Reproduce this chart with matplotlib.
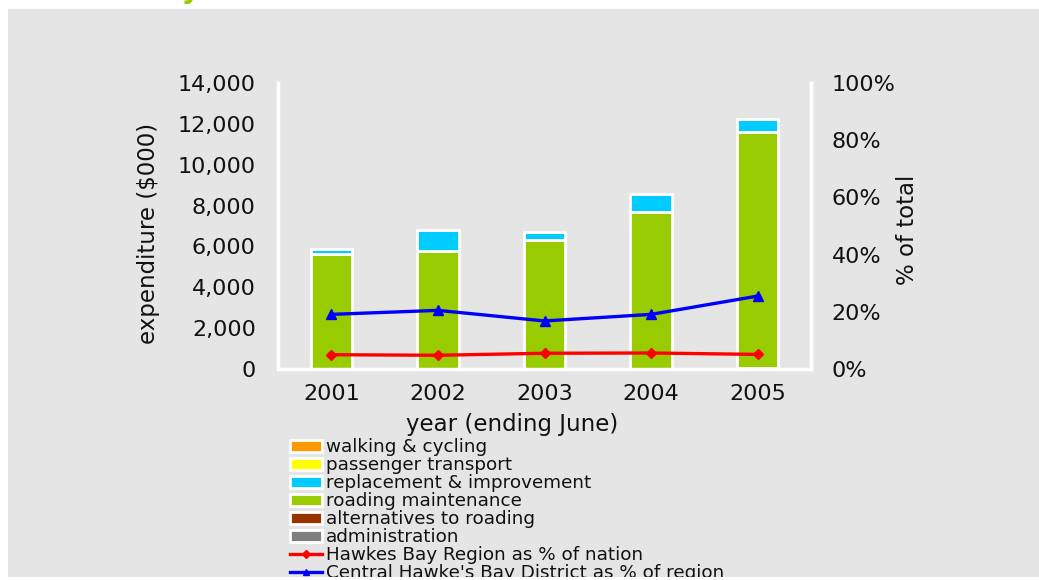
import matplotlib
matplotlib.use("Agg")
import matplotlib.pyplot as plt
from matplotlib.patches import Rectangle, Patch
from matplotlib.lines import Line2D
from matplotlib.ticker import FuncFormatter
import numpy as np

# ---- data ----
years = ["2001", "2002", "2003", "2004", "2005"]
administration = [0, 0, 0, 0, 0]
alternatives = [0, 0, 0, 0, 50]
roading_maintenance = [5650, 5780, 6330, 7690, 11570]
replacement = [200, 1000, 390, 880, 600]
passenger = [0, 0, 0, 0, 0]
walking = [0, 0, 0, 0, 0]
region_pct = [5.0, 4.8, 5.5, 5.6, 5.1]
district_pct = [19.1, 20.5, 16.8, 19.1, 25.5]

series_labels = ["walking & cycling", "passenger transport", "replacement & improvement",
                 "roading maintenance", "alternatives to roading", "administration"]
series_colors = ["#FF9900", "#FFFF00", "#00CCFF", "#99CC00", "#993300", "#808080"]
line_labels = ["Hawkes Bay Region as % of nation", "Central Hawke's Bay District as % of region"]

W, H = 1039, 580
fig = plt.figure(figsize=(W / 100, H / 100), dpi=100)
fig.patch.set_facecolor("white")
panel_bg = "#E5E5E5"
fig.patches.append(Rectangle((8 / W, 3 / H), (W - 8) / W, (577 - 9) / H,
                             transform=fig.transFigure, facecolor=panel_bg,
                             edgecolor="none", zorder=-10))

ax = fig.add_axes([278 / W, (H - 369) / H, (811 - 278) / W, (369 - 83) / H])
ax.set_facecolor("none")
x = np.arange(len(years))
bw = 0.39
stack_order = [(administration, 5), (alternatives, 4), (roading_maintenance, 3),
               (replacement, 2), (passenger, 1), (walking, 0)]
bottom = np.zeros(len(years))
for vals, idx in stack_order:
    v = np.array(vals, dtype=float)
    ax.bar(x, v, bw, bottom=bottom, color=series_colors[idx], edgecolor="white",
           linewidth=2, zorder=2)
    bottom += v

ax.set_xlim(-0.5, 4.5)
ax.set_ylim(0, 14000)
ax.set_yticks(np.arange(0, 14001, 2000))
ax.yaxis.set_major_formatter(FuncFormatter(lambda v, p: f"{int(v):,}"))
ax.set_xticks(x)
ax.set_xticklabels(years)
ax.tick_params(axis="both", length=0, labelsize=16, colors="#111111")
ax.tick_params(axis="y", pad=16)
ax.tick_params(axis="x", pad=11)
for s in ["left", "bottom", "right"]:
    ax.spines[s].set_color("white")
    ax.spines[s].set_linewidth(2.5)
ax.spines["top"].set_visible(False)

ax2 = ax.twinx()
ax2.set_ylim(0, 100)
ax2.set_yticks(np.arange(0, 101, 20))
ax2.yaxis.set_major_formatter(FuncFormatter(lambda v, p: f"{int(v)}%"))
ax2.tick_params(axis="y", length=0, labelsize=16, pad=15, colors="#111111")
for s in ["left", "bottom", "top"]:
    ax2.spines[s].set_visible(False)
ax2.spines["right"].set_color("white")
ax2.spines["right"].set_linewidth(2.5)
ax2.plot(x, region_pct, color="#FF0000", lw=2.4, marker="D", ms=5, zorder=3)
ax2.plot(x, district_pct, color="#0000FF", lw=2.4, marker="^", ms=7, zorder=3)

fig.text(149 / W, 1 - 233 / H, "expenditure ($000)", rotation=90, ha="center",
         va="center", fontsize=16.5, color="#111111")
fig.text(907 / W, 1 - 230 / H, "% of total", rotation=90, ha="center",
         va="center", fontsize=16.5, color="#111111")
fig.text(512 / W, 1 - 424 / H, "year (ending June)", ha="center", va="center",
         fontsize=16.5, color="#111111")

handles = [Patch(facecolor=c, edgecolor="white", linewidth=2) for c in series_colors]
handles += [Line2D([0], [0], color="#FF0000", lw=2.4, marker="D", ms=4),
            Line2D([0], [0], color="#0000FF", lw=2.4, marker="^", ms=5)]
labels = series_labels + line_labels
leg = ax2.legend(handles, labels, loc="upper left",
                 bbox_to_anchor=(290 / W, 1 - 438.5 / H), bbox_transform=fig.transFigure,
                 frameon=False, fontsize=13.2, labelspacing=0.0, borderpad=0,
                 borderaxespad=0, handlelength=1.72, handleheight=0.55,
                 handletextpad=0.25)
for t in leg.get_texts():
    t.set_color("#111111")

# clip the bottom strip
fig.patches.append(Rectangle((0, 0), 1, 3 / H, transform=fig.transFigure,
                             facecolor="white", edgecolor="none", zorder=20))

fig.text(200 / W, 1 + 1.5 / H, "Central Hawke's Bay", ha="right", va="baseline",
         fontsize=20, fontweight="bold", color="#99CC00")

fig.savefig("out.png", dpi=100, facecolor="white")
